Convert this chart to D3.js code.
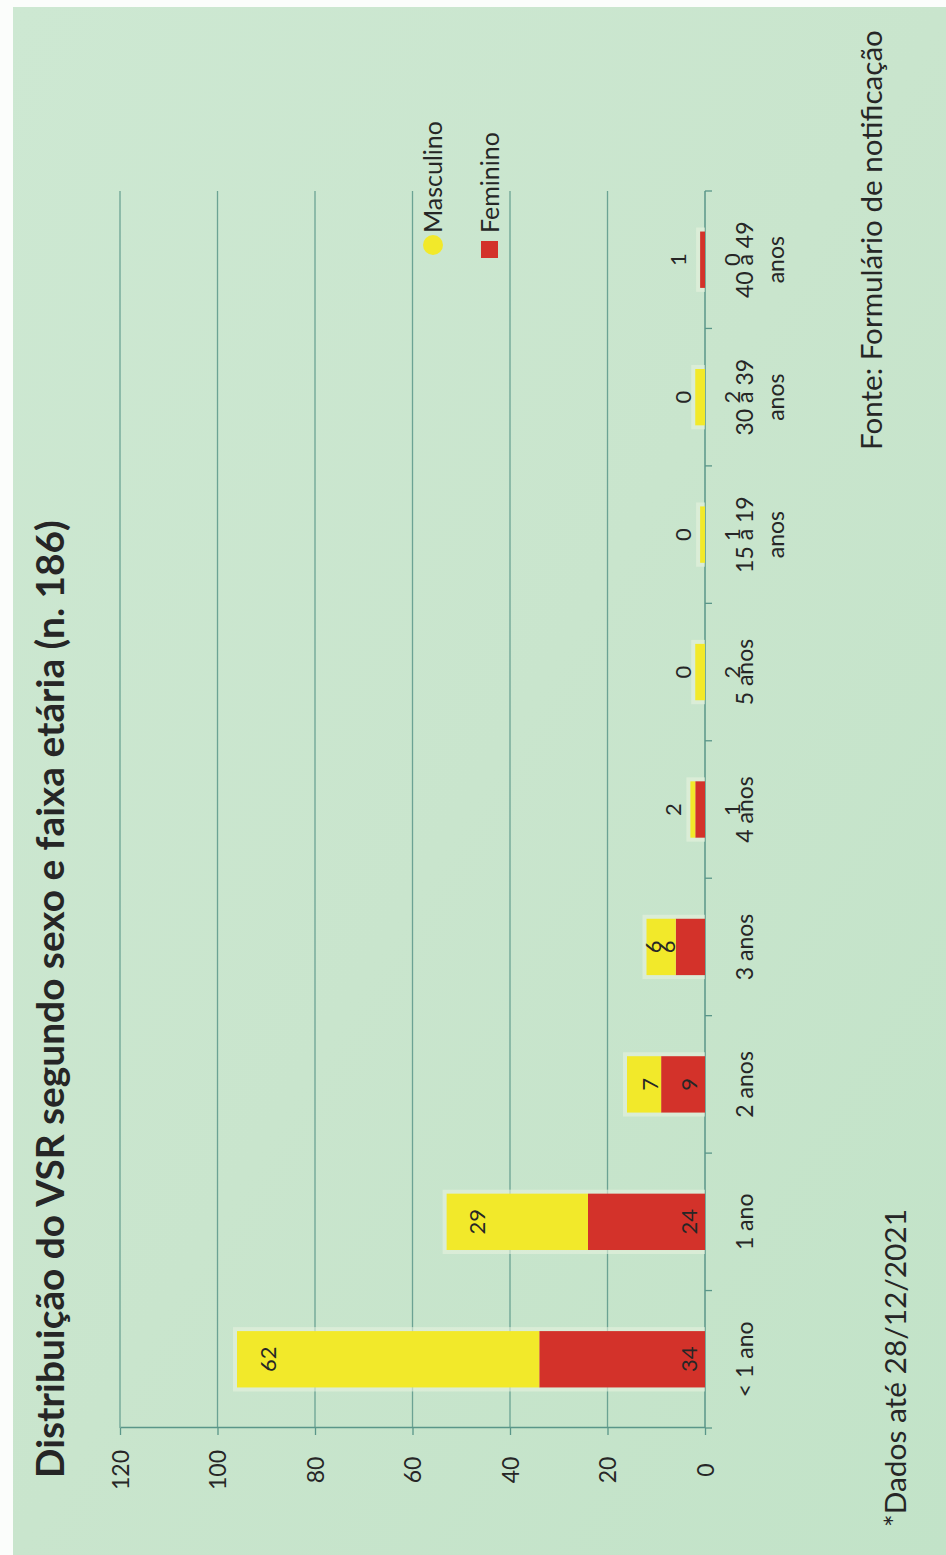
<!DOCTYPE html>
<html><head><meta charset="utf-8">
<script src="https://cdn.jsdelivr.net/npm/d3@7"></script>
<style>
html,body{margin:0;padding:0;background:#fff;}
svg{display:block;}
text{font-family:Lato,"Open Sans",sans-serif;fill:#262626;}
</style>
</head><body>
<svg id="c" width="946" height="1555"></svg>
<script>
// ---- data ----
const categories = ["< 1 ano","1 ano","2 anos","3 anos","4 anos","5 anos","15 a 19 anos","30 a 39 anos","40 a 49 anos"];
const categoryLines = [["< 1 ano"],["1 ano"],["2 anos"],["3 anos"],["4 anos"],["5 anos"],["15 a 19","anos"],["30 a 39","anos"],["40 a 49","anos"]];
const feminino  = [34, 24, 9, 6, 2, 0, 0, 0, 1];
const masculino = [62, 29, 7, 6, 1, 2, 1, 2, 0];
const valueTicks = [0, 20, 40, 60, 80, 100, 120];
const seriesNames = ["Masculino", "Feminino"];
const seriesColors = ["#f2e92a", "#d3322a"];
const titleText = "Distribuição do VSR segundo sexo e faixa etária (n. 186)";
const noteText = "*Dados até 28/12/2021";
const sourceText = "Fonte: Formulário de notificação";

const table = categories.map((c, i) => ({cat: c, Feminino: feminino[i], Masculino: masculino[i]}));

// ---- page ----
const W = 946, H = 1555;
const svg = d3.select("#c");
const defs = svg.append("defs");
const grad = defs.append("linearGradient").attr("id","bg").attr("x1","0").attr("y1","0").attr("x2","1").attr("y2","1");
grad.append("stop").attr("offset","0").attr("stop-color","#cde8d2");
grad.append("stop").attr("offset","0.5").attr("stop-color","#c9e5cd");
grad.append("stop").attr("offset","1").attr("stop-color","#c2e3c8");
svg.append("rect").attr("width",W).attr("height",H).attr("fill","#fbfdfb");
svg.append("rect").attr("x",13).attr("y",7).attr("width",W-13).attr("height",H-7).attr("fill","url(#bg)");

// landscape drawing rotated -90deg: page x = Y, page y = H - X
const g = svg.append("g").attr("transform",`translate(0,${H}) rotate(-90)`);

const x = d3.scaleBand().domain(categories).range([127, 1364]).padding(0);
const y = d3.scaleLinear().domain([0, 120]).range([705, 120]);
const barW = x.bandwidth() * 0.41;

const gridColor = "#5a9689";

// grid lines
g.append("g").selectAll("line").data(valueTicks.filter(t => t > 0)).join("line")
  .attr("x1", x.range()[0]).attr("x2", x.range()[1])
  .attr("y1", d => y(d)).attr("y2", d => y(d))
  .attr("stroke", gridColor).attr("stroke-width", 1.3).attr("stroke-opacity", 0.85);

// value axis
const yAxis = g.append("g").attr("transform", `translate(${x.range()[0]},0)`)
  .call(d3.axisLeft(y).tickValues(valueTicks).tickSize(7).tickSizeOuter(0).tickFormat(d3.format("d")));
yAxis.select(".domain").attr("stroke", gridColor).attr("stroke-width", 1.5);
yAxis.selectAll(".tick line").attr("stroke", gridColor).attr("stroke-width", 1.3);
yAxis.selectAll(".tick text").attr("x", -42).attr("text-anchor","middle").attr("dy","0.35em")
  .style("font-size","23px").style("font-family","Lato,sans-serif").attr("fill","#262626");

// category axis line at 0
g.append("line").attr("x1", x.range()[0]).attr("x2", x.range()[1])
  .attr("y1", y(0)).attr("y2", y(0)).attr("stroke", gridColor).attr("stroke-width", 1.5);
// category boundary ticks
const bounds = categories.map(c => x(c)).concat([x.range()[1]]);
g.append("g").selectAll("line").data(bounds).join("line")
  .attr("x1", d => d).attr("x2", d => d).attr("y1", y(0)).attr("y2", y(0) + 7)
  .attr("stroke", gridColor).attr("stroke-width", 1.3);

// bars
const stack = d3.stack().keys(["Feminino","Masculino"])(table);
const colorOf = {Masculino: seriesColors[0], Feminino: seriesColors[1]};

// halo behind bars
g.append("g").selectAll("rect").data(table).join("rect")
  .attr("x", d => x(d.cat) + x.bandwidth()/2 - barW/2 - 4)
  .attr("width", barW + 8)
  .attr("y", d => y(d.Feminino + d.Masculino) - 4)
  .attr("height", d => y(0) - y(d.Feminino + d.Masculino) + 4)
  .attr("fill", "#e6f2dd").attr("opacity", d => (d.Feminino + d.Masculino) > 0 ? 0.6 : 0);

g.append("g").selectAll("g").data(stack).join("g")
  .attr("fill", s => colorOf[s.key])
  .selectAll("rect").data(s => s).join("rect")
  .attr("x", d => x(d.data.cat) + x.bandwidth()/2 - barW/2)
  .attr("width", barW)
  .attr("y", d => y(d[1]))
  .attr("height", d => y(d[0]) - y(d[1]));

// data labels
const lbl = g.append("g").style("font-size","22px");
table.forEach(d => {
  const cx = x(d.cat) + x.bandwidth()/2;
  const fSeg = y(0) - y(d.Feminino);
  const fY = fSeg > 30 ? y(0) - 16 : y(d.Feminino) - 22;
  lbl.append("text").attr("x", cx).attr("y", fY).attr("text-anchor","middle").attr("dy","0.35em")
    .attr("fill", fSeg > 30 ? "#4a1a16" : "#262626").text(d.Feminino);
  const total = d.Feminino + d.Masculino;
  const mSeg = y(d.Feminino) - y(total);
  let mY;
  if (mSeg > 50) mY = y(total) + 31;
  else if (total >= 8) mY = (y(d.Feminino) + y(total)) / 2 + 6;
  else mY = y(0) + 27;
  lbl.append("text").attr("x", cx).attr("y", mY).attr("text-anchor","middle").attr("dy","0.35em")
    .attr("fill","#262626").text(d.Masculino);
});

// category labels
const cl = g.append("g").style("font-size","23px");
categories.forEach((c, i) => {
  const cx = x(c) + x.bandwidth()/2;
  const t = cl.append("text").attr("text-anchor","middle");
  categoryLines[i].forEach((ln, k) => {
    t.append("tspan").attr("x", cx).attr("y", 745 + k * 31).attr("dy","0.35em").text(ln);
  });
});

// legend
const lg = g.append("g").style("font-size","25px");
lg.append("circle").attr("cx", 1310).attr("cy", 433).attr("r", 10).attr("fill", seriesColors[0]);
lg.append("text").attr("x", 1322).attr("y", 433).attr("dy","0.35em").text(seriesNames[0]);
lg.append("rect").attr("x", 1297).attr("y", 481).attr("width", 17).attr("height", 17).attr("fill", seriesColors[1]);
lg.append("text").attr("x", 1322).attr("y", 490).attr("dy","0.35em").text(seriesNames[1]);

// title & notes
function fit(sel, target) {
  const L = sel.node().getComputedTextLength();
  const fs = parseFloat(sel.style("font-size"));
  sel.style("font-size", (fs * target / L).toFixed(2) + "px");
}
const title = g.append("text").attr("x", 77).attr("y", 64).style("font-weight","700").style("font-size","36px").text(titleText);
fit(title, 958);
const note = g.append("text").attr("x", 28).attr("y", 906).style("font-size","26px").text(noteText);
fit(note, 318);
const src = g.append("text").attr("x", 1105).attr("y", 882).style("font-size","26px").text(sourceText);
fit(src, 420);
</script>
</body></html>
